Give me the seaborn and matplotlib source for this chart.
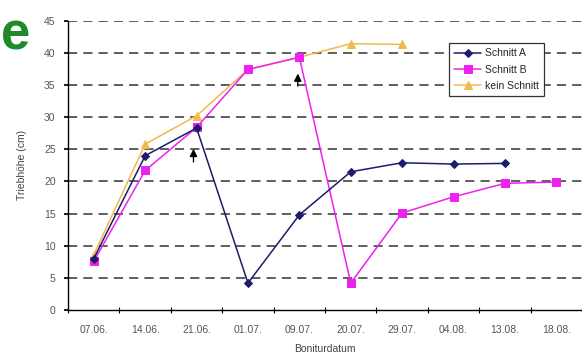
import matplotlib
matplotlib.use("Agg")
import matplotlib.pyplot as plt
import seaborn as sns
import pandas as pd
import numpy as np

# Boniturdaten: Triebhöhe je Schnittvariante
dates = ["07.06.", "14.06.", "21.06.", "01.07.", "09.07.", "20.07.", "29.07.", "04.08.", "13.08.", "18.08."]
schnitt_a = [8.0, 24.0, 28.3, 4.2, 14.8, 21.5, 22.9, 22.7, 22.8, None]
schnitt_b = [7.6, 21.7, 28.4, 37.4, 39.3, 4.2, 15.1, 17.6, 19.7, 19.9]
kein_schnitt = [8.6, 25.8, 30.2, 37.4, 39.3, 41.4, 41.3, None, None, None]
series_names = ["Schnitt A", "Schnitt B", "kein Schnitt"]
y_ticks = [0, 5, 10, 15, 20, 25, 30, 35, 40, 45]
# Schnittzeitpunkte (Pfeile): Position auf der Datumsachse, Pfeilfuß, Pfeilspitze
cut_x = [1.94, 3.97]
cut_y_from = [22.6, 34.4]
cut_y_to = [25.5, 37.2]

rows = []
for name, vals in zip(series_names, [schnitt_a, schnitt_b, kein_schnitt]):
    for d, v in zip(dates, vals):
        if v is not None:
            rows.append({"Boniturdatum": d, "Triebhöhe": v, "Variante": name})
df = pd.DataFrame(rows)

sns.set_theme(style="white")
plt.rcParams["font.family"] = ["Liberation Sans", "DejaVu Sans"]

fig = plt.figure(figsize=(5.82, 3.61), dpi=100)
ax = fig.add_axes([0.117, 0.141, 0.883, 0.802])

palette = {"Schnitt A": "#1c1c6b", "Schnitt B": "#ee22ee", "kein Schnitt": "#f2b94c"}
markers = {"Schnitt A": "D", "Schnitt B": "s", "kein Schnitt": "^"}
sizes = {"Schnitt A": 4, "Schnitt B": 5.5, "kein Schnitt": 5.5}

# Linien in umgekehrter Reihenfolge, damit Schnitt A oben liegt
for name in reversed(series_names):
    sub = df[df["Variante"] == name].copy()
    sub["pos"] = [dates.index(d) for d in sub["Boniturdatum"]]
    sns.lineplot(data=sub, x="pos", y="Triebhöhe", ax=ax, color=palette[name],
                 marker=markers[name], markersize=sizes[name], markeredgecolor=palette[name],
                 linewidth=1.1, sort=False, label=name)

ax.set_xlim(-0.5, len(dates) - 0.5)
ax.set_ylim(0, 45)
ax.set_yticks(y_ticks)
ax.set_yticklabels([str(t) for t in y_ticks])
ax.set_xticks(range(len(dates)))
ax.set_xticklabels(dates)
ax.set_xticks(np.arange(len(dates) + 1) - 0.5, minor=True)

for t in y_ticks[1:]:
    ax.axhline(t, color="#333333", lw=1.1, ls=(0, (6, 4)), zorder=0)

for s in ["top", "right"]:
    ax.spines[s].set_visible(False)
for s in ["left", "bottom"]:
    ax.spines[s].set_color("black")
    ax.spines[s].set_linewidth(1.0)

ax.tick_params(axis="x", which="major", length=0, pad=11, labelsize=7.5, labelcolor="#555555")
ax.tick_params(axis="x", which="minor", length=4, direction="inout", color="black", width=0.8, bottom=True)
ax.tick_params(axis="y", which="major", length=3, direction="out", left=True, color="black",
               pad=6, labelsize=7.5, labelcolor="#555555")

ax.set_xlabel("Boniturdatum", fontsize=7.5, color="#444444", labelpad=6)
ax.set_ylabel("Triebhöhe (cm)", fontsize=7.5, color="#444444", labelpad=12)

for x, y0, y1 in zip(cut_x, cut_y_from, cut_y_to):
    ax.annotate("", xy=(x, y1), xytext=(x, y0),
                arrowprops=dict(arrowstyle="-|>", color="black", lw=1.0, mutation_scale=11))

handles, labels = ax.get_legend_handles_labels()
order = [labels.index(n) for n in series_names]
leg = ax.legend([handles[i] for i in order], [labels[i] for i in order],
                loc="upper left", bbox_to_anchor=(444 / 582, 1 - 38 / 361),
                bbox_transform=fig.transFigure, frameon=True, fancybox=False,
                edgecolor="#333333", framealpha=1, fontsize=7.5, handlelength=2.6,
                borderpad=0.5, labelspacing=0.6, handletextpad=0.3)
leg.get_frame().set_linewidth(0.9)

fig.text(1 / 582, 1 - 36 / 361, "e", fontsize=38, fontweight="bold", color="#1f8a2a",
         ha="left", va="center")

fig.savefig("out.png", dpi=100)
